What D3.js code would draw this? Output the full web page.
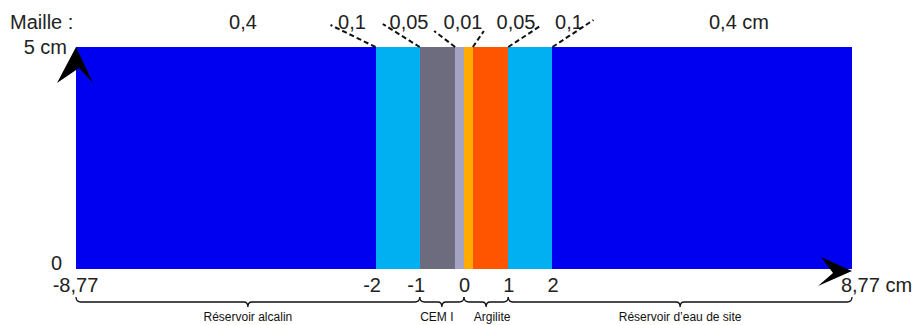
<!DOCTYPE html>
<html><head><meta charset="utf-8">
<script src="https://cdn.jsdelivr.net/npm/d3@7"></script>
<style>body{margin:0;background:#fff}svg{display:block}text{font-family:"Liberation Sans",Arial,sans-serif}</style>
</head><body><svg id="c" width="919" height="325"></svg>
<script>
// ---- data ----
const zoneStarts = [-8.77, -2, -1, -0.2, 0, 0.2, 1, 2];
const zoneEnds   = [-2, -1, -0.2, 0, 0.2, 1, 2, 8.77];
const zoneColors = ["#0000f0", "#00b0f0", "#6c6c7e", "#a4a4c2", "#ffab00", "#ff5500", "#00b0f0", "#0000f0"];
const xTicks = [-8.77, -2, -1, 0, 1, 2, 8.77];
const xTickLabels = ["-8,77", "-2", "-1", "0", "1", "2", "8,77 cm"];
const yTicks = [0, 5];
const yTickLabels = ["0", "5 cm"];
const meshLabels = ["0,4", "0,1", "0,05", "0,01", "0,05", "0,1", "0,4 cm"];
const meshBoundaries = [-2, -1, -0.2, 0.2, 1, 2];
const braceStarts = [-8.77, -1, 0, 1];
const braceEnds = [-1, 0, 1, 8.77];
const braceLabels = ["Réservoir alcalin", "CEM I", "Argilite", "Réservoir d’eau de site"];

// ---- layout ----
const svg = d3.select("#c");
const x = d3.scaleLinear().domain([-8.77, 8.77]).range([76, 852]);
const y = d3.scaleLinear().domain([0, 5]).range([269, 47]);
const ink = "#222";

// zones
svg.append("g").selectAll("rect").data(zoneStarts).join("rect")
  .attr("x", (d) => x(d))
  .attr("y", y(5))
  .attr("width", (d, i) => x(zoneEnds[i]) - x(d))
  .attr("height", y(0) - y(5))
  .attr("fill", (d, i) => zoneColors[i])
  .attr("shape-rendering", "crispEdges");

// x axis labels
const xAxis = d3.axisBottom(x).tickValues(xTicks)
  .tickFormat((d, i) => xTickLabels[i]).tickSize(0).tickPadding(0);
const gx = svg.append("g").attr("transform", `translate(0,${y(0)})`).call(xAxis);
gx.select(".domain").remove();
gx.selectAll("text").attr("font-size", 20).attr("fill", ink)
  .attr("font-family", "Liberation Sans, Arial, sans-serif")
  .attr("dy", null).attr("y", 23)
  .attr("dx", (d, i) => i === 0 ? -1 : (i === xTicks.length - 1 ? 24 : (d < 0 ? -4 : 0)));

// y axis labels
const yAxis = d3.axisLeft(y).tickValues(yTicks)
  .tickFormat((d, i) => yTickLabels[i]).tickSize(0).tickPadding(0);
const gy = svg.append("g").attr("transform", `translate(${x(-8.77)},0)`).call(yAxis);
gy.select(".domain").remove();
gy.selectAll("text").attr("font-size", 20).attr("fill", ink)
  .attr("font-family", "Liberation Sans, Arial, sans-serif")
  .attr("text-anchor", "end")
  .attr("dy", null)
  .attr("x", (d) => d === 0 ? -14 : -9)
  .attr("y", (d) => d === 0 ? 0 : 6);

// arrows
svg.append("path")
  .attr("d", () => {
    const tx = x(-8.77), ty = y(5);
    return `M${tx},${ty} L${tx + 17},${ty + 36} L${tx + 3},${ty + 21} L${tx - 19},${ty + 36} Z`;
  })
  .attr("fill", "#000");
svg.append("path")
  .attr("d", () => {
    const tx = x(8.77), ty = y(0) + 2;
    return `M${tx},${ty} L${tx - 31},${ty - 14} L${tx - 19},${ty + 2} L${tx - 34},${ty + 15} Z`;
  })
  .attr("fill", "#000");

// mesh labels
svg.append("text").attr("x", 10).attr("y", 29).attr("font-size", 20).attr("fill", ink).text("Maille :");
const meshLabelX = [243, 352, 409, 463, 516, 569, 739];
svg.append("g").selectAll("text").data(meshLabels).join("text")
  .attr("x", (d, i) => meshLabelX[i])
  .attr("y", 29)
  .attr("text-anchor", "middle")
  .attr("font-size", 20)
  .attr("fill", ink)
  .text((d) => d);

// dashed leader lines
const leadDx = [-45, -37, -21, 11, 32, 41];
const leadY = [25, 24, 31, 31, 26, 20];
svg.append("g").selectAll("line").data(meshBoundaries).join("line")
  .attr("x1", (d) => x(d)).attr("y1", y(5))
  .attr("x2", (d, i) => x(d) + leadDx[i]).attr("y2", (d, i) => leadY[i])
  .attr("stroke", "#111").attr("stroke-width", 2).attr("stroke-dasharray", "5,3");

// braces
const by = 302;
function brace(x0, x1) {
  const m = (x0 + x1) / 2;
  return `M${x0},${by - 5} Q${x0},${by} ${x0 + 5},${by} L${m - 4},${by} Q${m},${by} ${m},${by + 5} Q${m},${by} ${m + 4},${by} L${x1 - 5},${by} Q${x1},${by} ${x1},${by - 5}`;
}
svg.append("g").selectAll("path").data(braceStarts).join("path")
  .attr("d", (d, i) => brace(x(d), x(braceEnds[i])))
  .attr("fill", "none").attr("stroke", "#111").attr("stroke-width", 1.3);
svg.append("g").selectAll("text").data(braceLabels).join("text")
  .attr("x", (d, i) => (x(braceStarts[i]) + x(braceEnds[i])) / 2 + (i === 1 ? -5 : (i === 2 ? 6 : 0)))
  .attr("y", 321)
  .attr("text-anchor", "middle")
  .attr("font-size", 12)
  .attr("fill", "#111")
  .text((d) => d);
</script></body></html>
